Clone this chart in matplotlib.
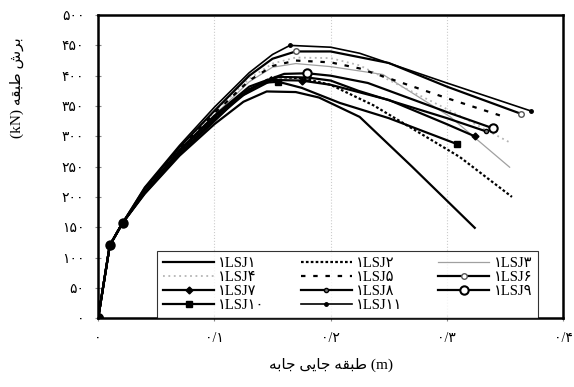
import matplotlib
matplotlib.use("Agg")
import matplotlib.pyplot as plt

plt.rcParams['font.family'] = ['Liberation Serif', 'DejaVu Sans']

# story drift (m) / story shear (kN)
rise_x = [0.0, 0.010, 0.021]
rise_y = [0, 120, 157]

lsj1_x = rise_x + [0.04, 0.07, 0.10, 0.125, 0.145, 0.17, 0.19, 0.225, 0.27, 0.324]
lsj1_y = rise_y + [205, 268, 320, 357, 374, 373, 364, 332, 250, 149]
lsj2_x = rise_x + [0.04, 0.07, 0.10, 0.125, 0.15, 0.175, 0.20, 0.237, 0.311, 0.356]
lsj2_y = rise_y + [208, 275, 330, 372, 398, 396, 385, 351, 266, 200]
lsj3_x = rise_x + [0.04, 0.07, 0.10, 0.13, 0.15, 0.17, 0.20, 0.245, 0.303, 0.354]
lsj3_y = rise_y + [210, 278, 335, 390, 414, 420, 415, 402, 332, 249]
lsj4_x = rise_x + [0.04, 0.07, 0.10, 0.13, 0.15, 0.17, 0.20, 0.225, 0.30, 0.354]
lsj4_y = rise_y + [212, 280, 340, 395, 420, 430, 429, 417, 345, 290]
lsj5_x = rise_x + [0.04, 0.07, 0.10, 0.13, 0.15, 0.17, 0.20, 0.225, 0.30, 0.348]
lsj5_y = rise_y + [211, 279, 338, 392, 416, 425, 422, 412, 363, 333]
lsj6_x = rise_x + [0.04, 0.07, 0.10, 0.13, 0.15, 0.17, 0.20, 0.25, 0.30, 0.364]
lsj6_y = rise_y + [214, 282, 342, 400, 428, 440, 440, 421, 382, 337]
lsj7_x = rise_x + [0.04, 0.07, 0.10, 0.125, 0.15, 0.175, 0.20, 0.25, 0.30, 0.324]
lsj7_y = rise_y + [207, 272, 328, 368, 393, 392, 385, 360, 320, 300]
lsj8_x = rise_x + [0.04, 0.07, 0.10, 0.13, 0.155, 0.18, 0.20, 0.224, 0.30, 0.334]
lsj8_y = rise_y + [209, 276, 332, 378, 398, 397, 392, 375, 330, 308]
lsj9_x = rise_x + [0.04, 0.07, 0.10, 0.13, 0.16, 0.18, 0.20, 0.232, 0.30, 0.340]
lsj9_y = rise_y + [209, 277, 334, 382, 403, 404, 400, 388, 340, 313]
lsj10_x = rise_x + [0.04, 0.07, 0.10, 0.12, 0.14, 0.155, 0.175, 0.208, 0.25, 0.309]
lsj10_y = rise_y + [206, 270, 325, 362, 388, 390, 380, 355, 330, 287]
lsj11_x = rise_x + [0.04, 0.07, 0.10, 0.13, 0.15, 0.165, 0.20, 0.225, 0.30, 0.372]
lsj11_y = rise_y + [216, 285, 348, 405, 435, 450, 447, 437, 388, 342]

labels = ['\u06f1LSJ\u06f1', '\u06f1LSJ\u06f2', '\u06f1LSJ\u06f3', '\u06f1LSJ\u06f4',
          '\u06f1LSJ\u06f5', '\u06f1LSJ\u06f6', '\u06f1LSJ\u06f7', '\u06f1LSJ\u06f8',
          '\u06f1LSJ\u06f9', '\u06f1LSJ\u06f1\u06f0', '\u06f1LSJ\u06f1\u06f1']

x_ticks = [0.0, 0.1, 0.2, 0.3, 0.4]
x_tick_labels = ['\u06f0', '\u06f0/\u06f1', '\u06f0/\u06f2', '\u06f0/\u06f3', '\u06f0/\u06f4']
y_ticks = list(range(0, 501, 50))
y_tick_labels = ['\u06f0', '\u06f5\u06f0', '\u06f1\u06f0\u06f0', '\u06f1\u06f5\u06f0',
                 '\u06f2\u06f0\u06f0', '\u06f2\u06f5\u06f0', '\u06f3\u06f0\u06f0',
                 '\u06f3\u06f5\u06f0', '\u06f4\u06f0\u06f0', '\u06f4\u06f5\u06f0',
                 '\u06f5\u06f0\u06f0']

# Arabic presentation forms, laid out left to right as in the picture
x_label = '\ufeea\ufe91\ufe8e\ufe9f \ufef0\ufef3\ufe8e\ufe9f \ufeea\ufed8\ufe92\ufec3 (m)'
y_label = '(kN) \ufeea\ufed8\ufe92\ufec3 \ufeb5\ufeae\ufe91'

fig = plt.figure(figsize=(5.74, 3.87), dpi=100)
ax = fig.add_axes([0.171, 0.178, 0.81, 0.783])

mk_every = [0, 1, 2, 8, -1]
styles = [
    dict(color='black', lw=1.6),
    dict(color='black', lw=1.6, ls=(0, (1.2, 1.0))),
    dict(color='#a0a0a0', lw=0.9),
    dict(color='#b5b5b5', lw=1.3, ls=(0, (1, 2))),
    dict(color='black', lw=1.6, ls=(0, (2, 3.5))),
    dict(color='black', lw=1.6, marker='o', ms=4, mfc='white', mec='#555555', markevery=mk_every),
    dict(color='black', lw=1.6, marker='D', ms=3.5, markevery=mk_every),
    dict(color='black', lw=1.6, marker='o', ms=3, mfc='#777777', markevery=mk_every),
    dict(color='black', lw=1.6, marker='o', ms=6, mfc='white', mew=1.5, markevery=mk_every),
    dict(color='black', lw=1.6, marker='s', ms=5, markevery=mk_every),
    dict(color='black', lw=1.2, marker='o', ms=2.5, markevery=mk_every),
]
series = [(lsj1_x, lsj1_y), (lsj2_x, lsj2_y), (lsj3_x, lsj3_y), (lsj4_x, lsj4_y),
          (lsj5_x, lsj5_y), (lsj6_x, lsj6_y), (lsj7_x, lsj7_y), (lsj8_x, lsj8_y),
          (lsj9_x, lsj9_y), (lsj10_x, lsj10_y), (lsj11_x, lsj11_y)]

handles = []
for (xs, ys), lab, st in zip(series, labels, styles):
    h, = ax.plot(xs, ys, label=lab, **st)
    handles.append(h)

# big dot at the origin
ax.plot([0], [0], 'o', color='black', ms=7, zorder=5)

ax.set_xlim(0, 0.4)
ax.set_ylim(0, 500)
ax.set_xticks(x_ticks)
ax.set_xticklabels(x_tick_labels, fontsize=10)
ax.set_yticks(y_ticks)
ax.set_yticklabels(y_tick_labels, fontsize=10)
ax.tick_params(direction='inout', length=4, color='#888888', pad=8)
for sp in ax.spines.values():
    sp.set_linewidth(1.8)
ax.xaxis.grid(True, ls=':', color='#cccccc', lw=0.8)

ax.set_xlabel(x_label, fontsize=11, labelpad=9)
ax.set_ylabel(y_label, fontsize=11)
ax.yaxis.set_label_coords(-0.16, 0.76)

order = [0, 3, 6, 9, 1, 4, 7, 10, 2, 5, 8]
leg = ax.legend([handles[i] for i in order], [labels[i] for i in order],
                ncol=3, loc='lower left', mode='expand',
                bbox_to_anchor=(0.127, 0.0, 0.819, 0.294),
                frameon=True, fancybox=False, edgecolor='black',
                fontsize=10.5, handlelength=3.5, labelspacing=0.05,
                borderaxespad=0, handletextpad=0.3, borderpad=0.4)
leg.get_frame().set_linewidth(0.8)

fig.savefig('out.png', dpi=100)
